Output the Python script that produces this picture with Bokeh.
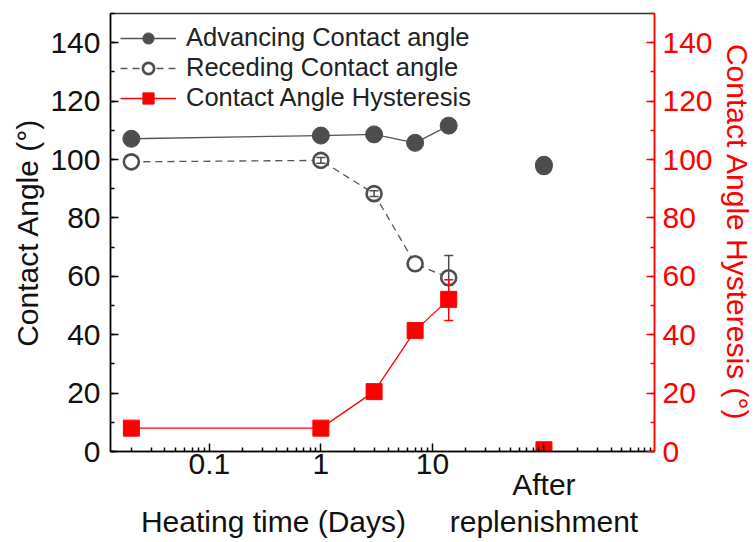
from bokeh.plotting import figure
from bokeh.models import (Range1d, LinearAxis, LogAxis, FixedTicker, SingleIntervalTicker,
                          Legend, LegendItem, Whisker, TeeHead, ColumnDataSource,
                          CustomJSTickFormatter)
from bokeh.embed import file_html
from bokeh.resources import INLINE

# Heating time (days) and the post-replenishment sample position on the log axis
days = [0.02, 1, 3, 7, 14]
after_x = [100]

# Advancing / receding contact angles (deg) and their hysteresis
adv = [107.1, 108.2, 108.6, 105.7, 111.6]
rec = [99.2, 99.7, 88.3, 64.3, 59.5]
rec_err_lo = [0, 1.0, 1.0, 0, 2.5]
rec_err_hi = [0, 1.0, 1.0, 0, 7.6]
hyst = [8.0, 8.0, 20.5, 41.4, 52.1]
hyst_err_lo = [0, 0, 0, 0, 7.2]
hyst_err_hi = [0, 0, 0, 0, 6.7]

after_adv = [98.2]
after_rec = [97.6]
after_hyst = [0.6]

x_major = [0.1, 1, 10, 100]

FONT = "Liberation Sans"
GREY = "#4d4d4d"
RED = "#ff0000"
INK = "#111111"

p = figure(width=756, height=542, x_axis_type="log",
           x_range=Range1d(0.013, 980), y_range=Range1d(0, 150),
           output_backend="svg", toolbar_location=None,
           min_border_left=110, min_border_right=99,
           min_border_top=13, min_border_bottom=91)
p.extra_y_ranges = {"hyst": Range1d(0, 150)}
p.grid.visible = False
p.outline_line_color = "#333333"
p.outline_line_width = 1.5
p.background_fill_color = "white"
p.border_fill_color = "white"


def style_axis(ax, color, label_color, standoff):
    ax.major_tick_in = 8
    ax.major_tick_out = 0
    ax.minor_tick_in = 4
    ax.minor_tick_out = 0
    ax.axis_line_width = 1.5
    ax.major_tick_line_width = 1.5
    ax.minor_tick_line_width = 1.5
    ax.axis_line_color = color
    ax.major_tick_line_color = color
    ax.minor_tick_line_color = color
    ax.major_label_text_font = FONT
    ax.major_label_text_font_size = "30px"
    ax.major_label_text_color = label_color
    ax.major_label_standoff = standoff
    ax.axis_label_text_font = FONT
    ax.axis_label_text_font_size = "30px"
    ax.axis_label_text_font_style = "normal"
    ax.axis_label_text_color = label_color


def text_row_axis(ticks, js, standoff):
    """A bare axis under the time axis that only carries text labels."""
    ax = LogAxis(ticker=FixedTicker(ticks=ticks, minor_ticks=[]),
                 formatter=CustomJSTickFormatter(code=js))
    ax.axis_line_color = None
    ax.major_tick_line_color = None
    ax.minor_tick_line_color = None
    ax.major_tick_in = 0
    ax.major_tick_out = 0
    ax.minor_tick_in = 0
    ax.minor_tick_out = 0
    ax.major_label_text_font = FONT
    ax.major_label_text_font_size = "30px"
    ax.major_label_text_color = INK
    ax.major_label_standoff = standoff
    return ax


# ---- x axis (log days) ----
xax = p.xaxis[0]
xax.ticker = FixedTicker(
    ticks=x_major,
    minor_ticks=[k * 10.0 ** e for e in range(-2, 3) for k in range(2, 10)])
xax.formatter = CustomJSTickFormatter(code="return tick >= 100 ? '' : tick.toString();")
style_axis(xax, "black", INK, 2)

# "After" / "Heating time (Days)" + "replenishment" text rows
title_x = 0.376  # centre of the time-axis caption under the heating section
p.add_layout(text_row_axis(after_x, "return 'After';", -9), "below")
p.add_layout(text_row_axis([title_x] + after_x,
                           "return tick >= 100 ? 'replenishment' : 'Heating time (Days)';",
                           1), "below")

# ---- left axis ----
yax = p.yaxis[0]
yax.ticker = SingleIntervalTicker(interval=20, num_minor_ticks=2)
yax.axis_label = "Contact Angle (°)"
style_axis(yax, "black", INK, 10)
yax.axis_label_standoff = 3

# ---- right axis (hysteresis) ----
rax = LinearAxis(y_range_name="hyst",
                 ticker=SingleIntervalTicker(interval=20, num_minor_ticks=2),
                 axis_label="Contact Angle Hysteresis (°)")
style_axis(rax, RED, RED, 8)
rax.axis_label_standoff = 5
p.add_layout(rax, "right")

# ---- series ----
adv_line = p.line(days, adv, line_color="#555555", line_width=1.3)
rec_line = p.line(days, rec, line_color="#555555", line_width=1.3, line_dash="7 5")
hys_line = p.line(days, hyst, line_color=RED, line_width=1.3, y_range_name="hyst")

rec_pts = p.scatter(days + after_x, rec + after_rec, marker="circle", size=15,
                    fill_color="white", line_color=GREY, line_width=2.6)
adv_pts = p.scatter(days + after_x, adv + after_adv, marker="circle", size=17,
                    fill_color=GREY, line_color=GREY, line_width=1)
hys_pts = p.scatter(days + after_x, hyst + after_hyst, marker="square", size=16,
                    fill_color=RED, line_color=RED, line_width=1, y_range_name="hyst")


# ---- error bars (only where a bar is drawn) ----
def err_source(vals, lo, hi):
    keep = [i for i in range(len(days)) if lo[i] > 0 or hi[i] > 0]
    return ColumnDataSource(dict(x=[days[i] for i in keep],
                                 lo=[vals[i] - lo[i] for i in keep],
                                 hi=[vals[i] + hi[i] for i in keep]))


def tee(color):
    return TeeHead(size=9, line_color=color, line_width=1.5)


for src, color, rng in ((err_source(rec, rec_err_lo, rec_err_hi), GREY, "default"),
                        (err_source(hyst, hyst_err_lo, hyst_err_hi), RED, "hyst")):
    p.add_layout(Whisker(source=src, base="x", lower="lo", upper="hi", level="overlay",
                         line_color=color, line_width=1.5, y_range_name=rng,
                         lower_head=tee(color), upper_head=tee(color)))

# ---- legend ----
legend = Legend(items=[
    LegendItem(label="Advancing Contact angle", renderers=[adv_line, adv_pts]),
    LegendItem(label="Receding Contact angle", renderers=[rec_line, rec_pts]),
    LegendItem(label="Contact Angle Hysteresis", renderers=[hys_line, hys_pts]),
], location="top_left")
legend.background_fill_alpha = 0
legend.border_line_alpha = 0
legend.margin = 0
legend.padding = 10
legend.spacing = 1
legend.glyph_width = 56
legend.glyph_height = 28
legend.label_height = 28
legend.label_standoff = 10
legend.label_text_font = FONT
legend.label_text_font_size = "25.5px"
legend.label_text_color = "#222222"
legend.label_text_baseline = "middle"
p.add_layout(legend, "center")

open("out.html", "w").write(file_html(p, INLINE))
